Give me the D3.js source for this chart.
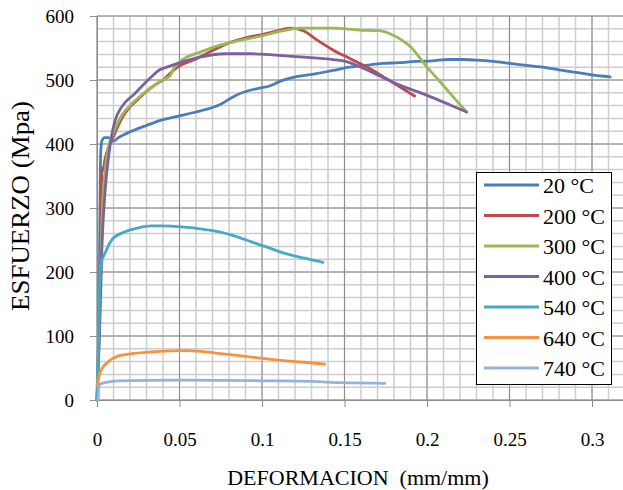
<!DOCTYPE html>
<html>
<head>
<meta charset="utf-8">
<script src="https://cdn.jsdelivr.net/npm/d3@7"></script>
<style>
  body { margin: 0; background: #fff; }
  text { font-family: "Liberation Serif", "Times New Roman", serif; }
</style>
</head>
<body>
<div id="chart"></div>
<script>
// strain (mm/mm) vs stress (MPa), one array per temperature
let s20 = [[0,0],[0.0012,120],[0.0018,300],[0.0022,385],[0.003,405],[0.0045,410],[0.007,410],[0.0095,404],[0.013,410],[0.02,419],[0.03,429],[0.04,438],[0.05,444],[0.06,450],[0.07,457],[0.075,462],[0.08,470],[0.085,477],[0.09,482],[0.1,488],[0.105,491],[0.11,497],[0.117,503],[0.125,507],[0.133,510],[0.143,515],[0.153,520],[0.163,523],[0.173,526],[0.183,527],[0.193,529],[0.203,530],[0.213,532],[0.222,532],[0.23,531],[0.24,529],[0.25,526],[0.26,523],[0.27,520],[0.28,516],[0.29,512],[0.3,508],[0.311,505]];
let s200 = [[0,0],[0.0015,150],[0.0025,300],[0.003,362],[0.0035,358],[0.005,378],[0.007,395],[0.01,412],[0.015,440],[0.02,458],[0.025,470],[0.03,482],[0.035,492],[0.04,500],[0.045,512],[0.05,522],[0.06,533],[0.07,546],[0.08,558],[0.09,566],[0.1,571],[0.108,576],[0.117,581],[0.125,577],[0.133,563],[0.143,547],[0.153,534],[0.163,521],[0.173,506],[0.183,490],[0.1925,475]];
let s300 = [[0,0],[0.0015,120],[0.003,280],[0.005,360],[0.007,395],[0.01,418],[0.015,445],[0.02,460],[0.025,472],[0.03,483],[0.035,492],[0.04,501],[0.044,506],[0.047,520],[0.05,528],[0.063,544],[0.075,555],[0.0836,560],[0.1,569],[0.113,577],[0.123,581],[0.143,581],[0.159,578],[0.171,577],[0.1795,570],[0.185,562],[0.19,552],[0.1997,521],[0.207,500],[0.214,479],[0.224,450]];
let s400 = [[0,0],[0.0015,100],[0.003,240],[0.005,330],[0.007,380],[0.009,415],[0.011,437],[0.015,458],[0.023,479],[0.033,505],[0.038,516],[0.041,519],[0.049,526],[0.063,536],[0.0775,541],[0.0927,541],[0.1018,540],[0.123,536],[0.143,532],[0.152,528],[0.159,521],[0.17,508],[0.1835,492],[0.2,476],[0.214,461],[0.224,450]];
let s540 = [[0,0],[0.0012,120],[0.0018,198],[0.003,218],[0.0048,229],[0.0089,250],[0.017,263],[0.025,269],[0.033,272],[0.039,272],[0.053,270],[0.0635,267],[0.0735,263],[0.0837,256],[0.0937,247],[0.104,238],[0.114,229],[0.125,222],[0.137,215]];
let s640 = [[0,23],[0.002,44],[0.0069,60],[0.013,69],[0.02,72],[0.033,75],[0.053,77],[0.063,76],[0.0735,73],[0.0937,67],[0.114,61],[0.125,59],[0.138,56]];
let s740 = [[0,0],[0.0008,3],[0.001,21],[0.002,25],[0.0048,27],[0.013,30],[0.05,31],[0.1,30],[0.13,29],[0.148,27],[0.1745,26]];

let seriesNames = ["20 °C", "200 °C", "300 °C", "400 °C", "540 °C", "640 °C", "740 °C"];
let seriesColors = ["#4A7EBB", "#BE4B48", "#98B954", "#7D60A0", "#46AAC5", "#F69240", "#95B3D7"];
let seriesData = [s20, s200, s300, s400, s540, s640, s740];

let xTicks = [0, 0.05, 0.1, 0.15, 0.2, 0.25, 0.3];
let yTicks = [0, 100, 200, 300, 400, 500, 600];

let width = 623;
let height = 490;

let svg = d3.select("#chart").append("svg")
  .attr("width", width)
  .attr("height", height);

let x = d3.scaleLinear().domain([0, 0.32]).range([97, 625]);
let y = d3.scaleLinear().domain([0, 600]).range([400, 16]);

// grid: minor lines first, major lines on top
let grid = svg.append("g");
grid.selectAll(".vminor")
  .data(d3.range(0, 33).map(i => i / 100))
  .enter()
  .append("line")
  .attr("x1", d => x(d)).attr("x2", d => x(d))
  .attr("y1", y(0)).attr("y2", y(600))
  .attr("stroke", "#cdcdcd")
  .attr("stroke-width", 1.5);
grid.selectAll(".hminor")
  .data(d3.range(0, 31).map(i => i * 20))
  .enter()
  .append("line")
  .attr("x1", x(0)).attr("x2", width)
  .attr("y1", d => y(d)).attr("y2", d => y(d))
  .attr("stroke", "#cdcdcd")
  .attr("stroke-width", 1.5);
grid.selectAll(".vmajor")
  .data(xTicks)
  .enter()
  .append("line")
  .attr("x1", d => x(d)).attr("x2", d => x(d))
  .attr("y1", y(0)).attr("y2", y(600))
  .attr("stroke", "#8e8e8e")
  .attr("stroke-width", 1);
grid.selectAll(".hmajor")
  .data(yTicks)
  .enter()
  .append("line")
  .attr("x1", x(0)).attr("x2", width)
  .attr("y1", d => y(d)).attr("y2", d => y(d))
  .attr("stroke", "#8e8e8e")
  .attr("stroke-width", 1);

// axes
let yAxis = svg.append("g")
  .attr("transform", `translate(${x(0)},0)`)
  .call(d3.axisLeft(y).tickValues(yTicks).tickSize(7).tickSizeOuter(0).tickPadding(16));
let xAxis = svg.append("g")
  .attr("transform", `translate(0,${y(0)})`)
  .call(d3.axisBottom(x).tickValues(xTicks).tickSize(7).tickSizeOuter(0).tickPadding(26)
    .tickFormat(d => d3.format("")(d)));

[yAxis, xAxis].forEach(function (ax) {
  ax.attr("font-family", null);
  ax.select(".domain").attr("stroke", "#8e8e8e");
  ax.selectAll(".tick line").attr("stroke", "#8e8e8e");
  ax.selectAll(".tick text")
    .attr("fill", "#000")
    .style("font-family", "'Liberation Serif', serif")
    .style("font-size", "19px");
});

// curves
let line = d3.line()
  .x(d => x(d[0]))
  .y(d => y(d[1]))
  .curve(d3.curveMonotoneX);

svg.append("g").selectAll("path")
  .data(seriesData)
  .enter()
  .append("path")
  .attr("d", d => line(d))
  .attr("fill", "none")
  .attr("stroke", (d, i) => seriesColors[i])
  .attr("stroke-width", 2.8)
  .attr("stroke-linejoin", "round")
  .attr("stroke-linecap", "round");

// legend
let legend = svg.append("g");
legend.append("rect")
  .attr("x", 476.5).attr("y", 172.5)
  .attr("width", 135).attr("height", 212)
  .attr("fill", "#fff")
  .attr("stroke", "#000")
  .attr("stroke-width", 1);

let legendRow = 30.5;
legend.selectAll(".lline")
  .data(seriesNames)
  .enter()
  .append("line")
  .attr("x1", 484).attr("x2", 539)
  .attr("y1", (d, i) => 185 + i * legendRow)
  .attr("y2", (d, i) => 185 + i * legendRow)
  .attr("stroke", (d, i) => seriesColors[i])
  .attr("stroke-width", 3);
legend.selectAll(".ltext")
  .data(seriesNames)
  .enter()
  .append("text")
  .attr("x", 543)
  .attr("y", (d, i) => 193 + i * legendRow)
  .style("font-size", "22px")
  .attr("fill", "#000")
  .text(d => d);

// axis titles
svg.append("text")
  .attr("x", 358).attr("y", 485)
  .attr("text-anchor", "middle")
  .style("font-size", "22px")
  .attr("xml:space", "preserve")
  .text("DEFORMACION  (mm/mm)");

svg.append("text")
  .attr("transform", "translate(29,206) rotate(-90)")
  .attr("text-anchor", "middle")
  .style("font-size", "25px")
  .attr("textLength", 210)
  .attr("lengthAdjust", "spacingAndGlyphs")
  .text("ESFUERZO (Mpa)");
</script>
</body>
</html>
